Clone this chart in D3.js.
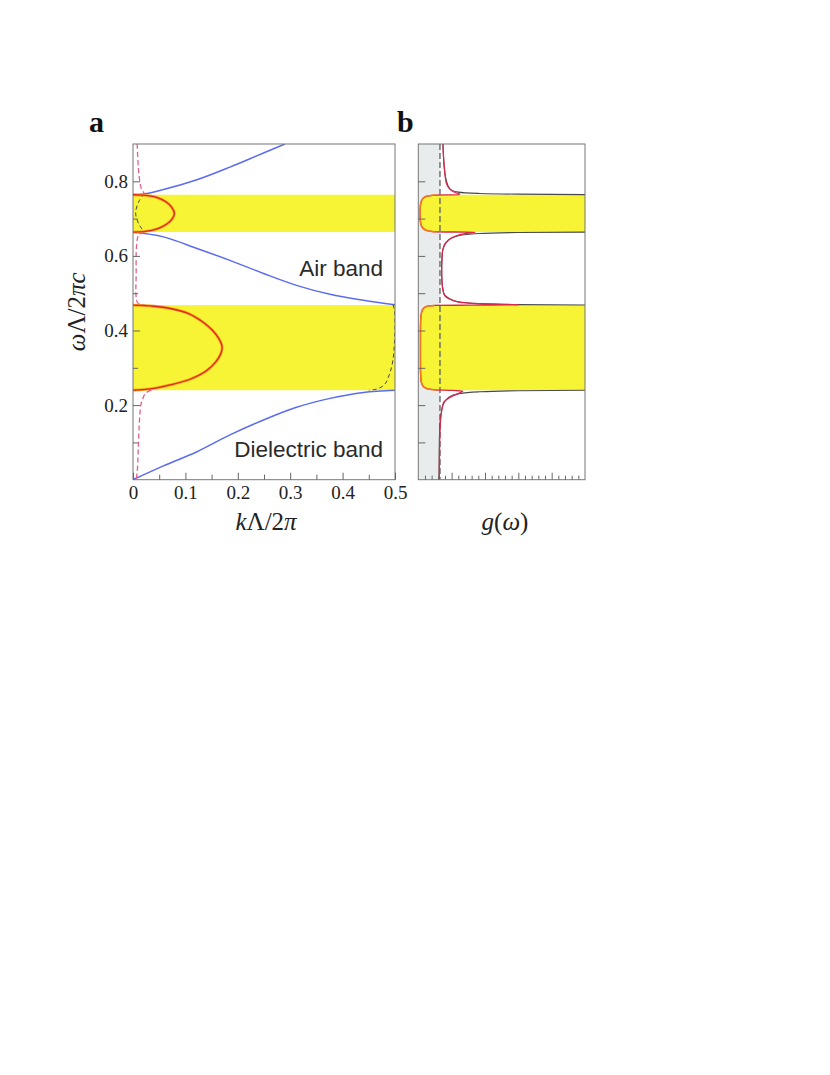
<!DOCTYPE html>
<html>
<head>
<meta charset="utf-8">
<script src="https://cdn.jsdelivr.net/npm/d3@7"></script>
<style>
  body { margin: 0; background: #fff; }
  .tick text { font-family: "Liberation Serif", "DejaVu Serif", serif; font-size: 19px; fill: #222; }
  .tick line { stroke: #666; stroke-width: 1; }
  .band-label { font-family: "Liberation Sans", Arial, sans-serif; font-size: 22.5px; fill: #2a2a2a; }
  .axis-title { font-family: "Liberation Serif", "DejaVu Serif", serif; font-size: 25px; fill: #222; }
  .panel-label { font-family: "Liberation Serif", "DejaVu Serif", serif; font-size: 30px; font-weight: bold; fill: #111; }
</style>
</head>
<body>
<div id="chart"></div>
<script>
// ---- data ----
// photonic band gaps (omega Lambda / 2 pi c)
const gaps = [[0.240, 0.468], [0.664, 0.764]];

// panel a: real bands, [k, omega]
const dielectricBand = [[0, 0], [0.058, 0.037], [0.122, 0.075], [0.185, 0.120], [0.249, 0.160],
    [0.312, 0.194], [0.376, 0.218], [0.44, 0.234], [0.5, 0.240]];
const airBand = [[0, 0.664], [0.058, 0.651], [0.122, 0.620], [0.185, 0.588], [0.249, 0.553],
    [0.312, 0.521], [0.376, 0.497], [0.44, 0.481], [0.5, 0.469]];
const thirdBand = [[0, 0.764], [0.02, 0.766], [0.058, 0.778], [0.122, 0.804], [0.185, 0.838],
    [0.249, 0.876], [0.29, 0.90]];

// panel a: imaginary k inside the gaps (lossless)
const imagLower = [[0, 0.468], [0.040, 0.465], [0.071, 0.459], [0.105, 0.446], [0.134, 0.422],
    [0.152, 0.400], [0.163, 0.380], [0.169, 0.363], [0.170, 0.352], [0.167, 0.336],
    [0.158, 0.316], [0.140, 0.292], [0.110, 0.270], [0.071, 0.254], [0.040, 0.245], [0, 0.240]];
const imagUpper = [[0, 0.764], [0.02, 0.763], [0.045, 0.757], [0.063, 0.745], [0.074, 0.730],
    [0.079, 0.714], [0.074, 0.698], [0.063, 0.684], [0.045, 0.672], [0.02, 0.665], [0, 0.664]];

// panel a: lossy case, real part (black dashed) and imaginary part (pink dashed)
const lossyReUpper = [[0.022, 0.766], [0.012, 0.748], [0.005, 0.715], [0.012, 0.683], [0.022, 0.664]];
const lossyReLower = [[0.496, 0.469], [0.499, 0.455], [0.5, 0.42], [0.499, 0.37], [0.496, 0.32],
    [0.49, 0.285], [0.48, 0.255], [0.465, 0.243], [0.45, 0.240]];
const lossyImTop = [[0.008, 0.90], [0.010, 0.84], [0.013, 0.80], [0.016, 0.78], [0.022, 0.767]];
const lossyImMid = [[0.022, 0.664], [0.011, 0.656], [0.007, 0.63], [0.006, 0.55], [0.006, 0.49],
    [0.009, 0.474], [0.022, 0.469]];
const lossyImLow = [[0.035, 0.240], [0.024, 0.232], [0.018, 0.215], [0.015, 0.200], [0.012, 0.150],
    [0.010, 0.080], [0.008, 0.020], [0.006, 0]];

// panel b: density of states, [g, omega]
const dosLossy = [[3.15, 0.000], [3.18, 0.060], [3.25, 0.130], [3.40, 0.170], [3.75, 0.205],
    [4.50, 0.218], [5.30, 0.226], [6.20, 0.233], [6.70, 0.2375], [5.00, 0.2395], [2.50, 0.2410],
    [1.30, 0.2440], [0.75, 0.2500], [0.48, 0.2600], [0.37, 0.2750], [0.33, 0.3000], [0.32, 0.3560],
    [0.33, 0.4100], [0.37, 0.4320], [0.48, 0.4480], [0.75, 0.4590], [1.30, 0.4650], [2.50, 0.4672],
    [8.00, 0.4680], [15.0, 0.4690], [9.00, 0.4720], [6.00, 0.4760], [4.50, 0.4860], [3.80, 0.5000],
    [3.55, 0.5300], [3.50, 0.5700], [3.60, 0.6070], [3.90, 0.6300], [4.50, 0.6420], [5.60, 0.6530],
    [7.00, 0.6600], [8.50, 0.6635], [2.50, 0.6645], [1.30, 0.6680], [0.70, 0.6740], [0.42, 0.6830],
    [0.30, 0.6960], [0.26, 0.7140], [0.30, 0.7320], [0.42, 0.7450], [0.70, 0.7540], [1.30, 0.7600],
    [2.50, 0.7630], [6.00, 0.7640], [6.20, 0.7660], [5.50, 0.7700], [4.70, 0.7800], [4.20, 0.7950],
    [4.00, 0.8200], [3.80, 0.8600], [3.70, 0.9000]];
const dosBand1 = [[3.1, 0], [3.15, 0.1], [3.3, 0.16], [3.7, 0.20], [4.5, 0.22], [6, 0.23],
    [9, 0.2355], [15, 0.2385], [25, 0.2398]];
const dosBand2 = [[25, 0.4682], [15, 0.4695], [9, 0.472], [6, 0.477], [4.5, 0.487], [3.8, 0.50],
    [3.5, 0.55], [3.6, 0.607], [4.5, 0.642], [6, 0.654], [9, 0.660], [15, 0.6628], [25, 0.6638]];
const dosBand3 = [[25, 0.7642], [15, 0.7655], [9, 0.7675], [6, 0.771], [4.7, 0.780], [4.0, 0.82],
    [3.7, 0.90]];
const vacuumDos = 3.25;

// ticks
const kTicks = [0, 0.1, 0.2, 0.3, 0.4, 0.5];
const kMinor = [0.05, 0.15, 0.25, 0.35, 0.45];
const wTicks = [0.2, 0.4, 0.6, 0.8];
const wMinor = [0.1, 0.3, 0.5, 0.7];
const gMajor = [5, 10, 15, 20];
const gMinor = [1, 2, 3, 4, 6, 7, 8, 9, 11, 12, 13, 14, 16, 17, 18, 19, 21, 22, 23, 24];

// ---- layout ----
const svg = d3.select("#chart").append("svg")
    .attr("width", 830)
    .attr("height", 1075);

const xA = d3.scaleLinear().domain([0, 0.5]).range([133, 395]);
const yW = d3.scaleLinear().domain([0, 0.9]).range([479.7, 144]);
const xG = d3.scaleLinear().domain([0, 25]).range([418.3, 585]);

const yellow = "#f6f434";
const blue = "#5b6cf0";

const defs = svg.append("defs");
defs.append("clipPath").attr("id", "clipA").append("rect")
    .attr("x", xA(0)).attr("y", yW(0.9)).attr("width", xA(0.5) - xA(0)).attr("height", yW(0) - yW(0.9));
defs.append("clipPath").attr("id", "clipB").append("rect")
    .attr("x", xG(0)).attr("y", yW(0.9)).attr("width", xG(25) - xG(0)).attr("height", yW(0) - yW(0.9));

// ================= panel a =================
const gA = svg.append("g").attr("clip-path", "url(#clipA)");

gA.selectAll(".gap")
    .data(gaps)
    .enter().append("rect")
    .attr("x", xA(0))
    .attr("width", xA(0.5) - xA(0))
    .attr("y", d => yW(d[1]))
    .attr("height", d => yW(d[0]) - yW(d[1]))
    .style("fill", yellow);

const lineK = d3.line().x(d => xA(d[0])).y(d => yW(d[1]));

[dielectricBand, airBand, thirdBand].forEach(b => {
    gA.append("path")
        .attr("d", lineK.curve(d3.curveMonotoneX)(b))
        .style("fill", "none").style("stroke", blue).style("stroke-width", 1.5);
});

[lossyReUpper, lossyReLower].forEach(c => {
    gA.append("path")
        .attr("d", lineK.curve(d3.curveCatmullRom)(c))
        .style("fill", "none").style("stroke", "#444").style("stroke-width", 1)
        .style("stroke-dasharray", "4,3");
});

// imaginary part: orange halo with red core
[imagLower, imagUpper].forEach(c => {
    gA.append("path")
        .attr("d", lineK.curve(d3.curveCatmullRom.alpha(0.5))(c))
        .style("fill", "none").style("stroke", "#f7a21f").style("stroke-width", 2.8);
    gA.append("path")
        .attr("d", lineK.curve(d3.curveCatmullRom.alpha(0.5))(c))
        .style("fill", "none").style("stroke", "#e0281c").style("stroke-width", 1.3);
});

[lossyImTop, lossyImMid, lossyImLow].forEach(c => {
    gA.append("path")
        .attr("d", lineK.curve(d3.curveCatmullRom)(c))
        .style("fill", "none").style("stroke", "#e0608a").style("stroke-width", 1.3)
        .style("stroke-dasharray", "5,3");
});

// frame a
svg.append("rect")
    .attr("x", xA(0)).attr("y", yW(0.9))
    .attr("width", xA(0.5) - xA(0)).attr("height", yW(0) - yW(0.9))
    .style("fill", "none").style("stroke", "#777").style("stroke-width", 1);

// axes a (ticks pointing inwards)
svg.append("g")
    .attr("transform", `translate(0,${yW(0)})`)
    .call(d3.axisBottom(xA).tickValues(kTicks).tickSize(-7).tickPadding(6).tickFormat(d3.format(".1~f")))
    .call(g => g.select(".domain").remove());
svg.append("g")
    .attr("transform", `translate(0,${yW(0)})`)
    .call(d3.axisBottom(xA).tickValues(kMinor).tickSize(-5).tickFormat(""))
    .call(g => g.select(".domain").remove());
svg.append("g")
    .attr("transform", `translate(${xA(0)},0)`)
    .call(d3.axisLeft(yW).tickValues(wTicks).tickSize(-7).tickPadding(5).tickFormat(d3.format(".1f")))
    .call(g => g.select(".domain").remove());
svg.append("g")
    .attr("transform", `translate(${xA(0)},0)`)
    .call(d3.axisLeft(yW).tickValues(wMinor).tickSize(-5).tickFormat(""))
    .call(g => g.select(".domain").remove());

svg.append("text").attr("class", "band-label")
    .attr("x", 383).attr("y", 275.5).attr("text-anchor", "end").text("Air band");
svg.append("text").attr("class", "band-label")
    .attr("x", 383).attr("y", 457).attr("text-anchor", "end").text("Dielectric band");

// axis titles
const xTitle = svg.append("text").attr("class", "axis-title")
    .attr("x", (xA(0) + xA(0.5)) / 2 + 2).attr("y", 530).attr("text-anchor", "middle");
xTitle.append("tspan").style("font-style", "italic").text("k");
xTitle.append("tspan").text("Λ/2");
xTitle.append("tspan").style("font-style", "italic").text("π");

const yTitle = svg.append("text").attr("class", "axis-title")
    .attr("transform", `translate(85,${(yW(0) + yW(0.9)) / 2}) rotate(-90)`)
    .attr("text-anchor", "middle");
yTitle.append("tspan").style("font-style", "italic").text("ω");
yTitle.append("tspan").text("Λ/2");
yTitle.append("tspan").style("font-style", "italic").text("πc");

svg.append("text").attr("class", "panel-label").attr("x", 89).attr("y", 132).text("a");

// ================= panel b =================
const gB = svg.append("g").attr("clip-path", "url(#clipB)");

gB.append("rect")
    .attr("x", xG(0)).attr("y", yW(0.9))
    .attr("width", xG(vacuumDos) - xG(0)).attr("height", yW(0) - yW(0.9))
    .style("fill", "#e8ecec");

// yellow fill between lossy DOS and right edge, inside each gap
const areaG = d3.area()
    .y(d => yW(d[1]))
    .x0(d => xG(d[0]))
    .x1(xG(25))
    .curve(d3.curveMonotoneY);
gaps.forEach(gp => {
    const pts = dosLossy.filter(d => d[1] >= gp[0] - 1e-6 && d[1] <= gp[1] + 1e-6 && d[0] < 3);
    const edge = [[pts[0][0], gp[0]]].concat(pts).concat([[pts[pts.length - 1][0], gp[1]]]);
    gB.append("path")
        .attr("d", areaG(edge.slice().reverse()))
        .style("fill", yellow);
});

gB.append("line")
    .attr("x1", xG(vacuumDos)).attr("x2", xG(vacuumDos))
    .attr("y1", yW(0.9)).attr("y2", yW(0))
    .style("stroke", "#666a6a").style("stroke-width", 1.4).style("stroke-dasharray", "6,3");

const lineG = d3.line().x(d => xG(d[0])).y(d => yW(d[1])).curve(d3.curveMonotoneY);

[dosBand1, dosBand2, dosBand3].forEach(b => {
    const pts = b.slice().sort((p, q) => q[1] - p[1]);
    gB.append("path")
        .attr("d", lineG(pts))
        .style("fill", "none").style("stroke", "#4a4a4a").style("stroke-width", 1.1);
});

gB.append("path")
    .attr("d", lineG(dosLossy.slice().reverse()))
    .style("fill", "none").style("stroke", "#d8284c").style("stroke-width", 1.3);

gaps.forEach(gp => {
    const pts = dosLossy.filter(d => d[1] >= gp[0] && d[1] <= gp[1] && d[0] < 3);
    gB.append("path")
        .attr("d", lineG(pts.slice().reverse()))
        .style("fill", "none").style("stroke", "#f07a1e").style("stroke-width", 1.5);
});

// frame b
svg.append("rect")
    .attr("x", xG(0)).attr("y", yW(0.9))
    .attr("width", xG(25) - xG(0)).attr("height", yW(0) - yW(0.9))
    .style("fill", "none").style("stroke", "#777").style("stroke-width", 1);

svg.append("g")
    .attr("transform", `translate(${xG(0)},0)`)
    .call(d3.axisLeft(yW).tickValues(wTicks.concat(wMinor)).tickSize(-7).tickFormat(""))
    .call(g => g.select(".domain").remove());
svg.append("g")
    .attr("transform", `translate(0,${yW(0)})`)
    .call(d3.axisBottom(xG).tickValues(gMajor).tickSize(-7).tickFormat(""))
    .call(g => g.select(".domain").remove());
svg.append("g")
    .attr("transform", `translate(0,${yW(0)})`)
    .call(d3.axisBottom(xG).tickValues(gMinor).tickSize(-4).tickFormat(""))
    .call(g => g.select(".domain").remove());

const gTitle = svg.append("text").attr("class", "axis-title")
    .attr("x", 505).attr("y", 530).attr("text-anchor", "middle");
gTitle.append("tspan").style("font-style", "italic").text("g");
gTitle.append("tspan").text("(");
gTitle.append("tspan").style("font-style", "italic").text("ω");
gTitle.append("tspan").text(")");

svg.append("text").attr("class", "panel-label").attr("x", 397).attr("y", 132).text("b");
</script>
</body>
</html>
